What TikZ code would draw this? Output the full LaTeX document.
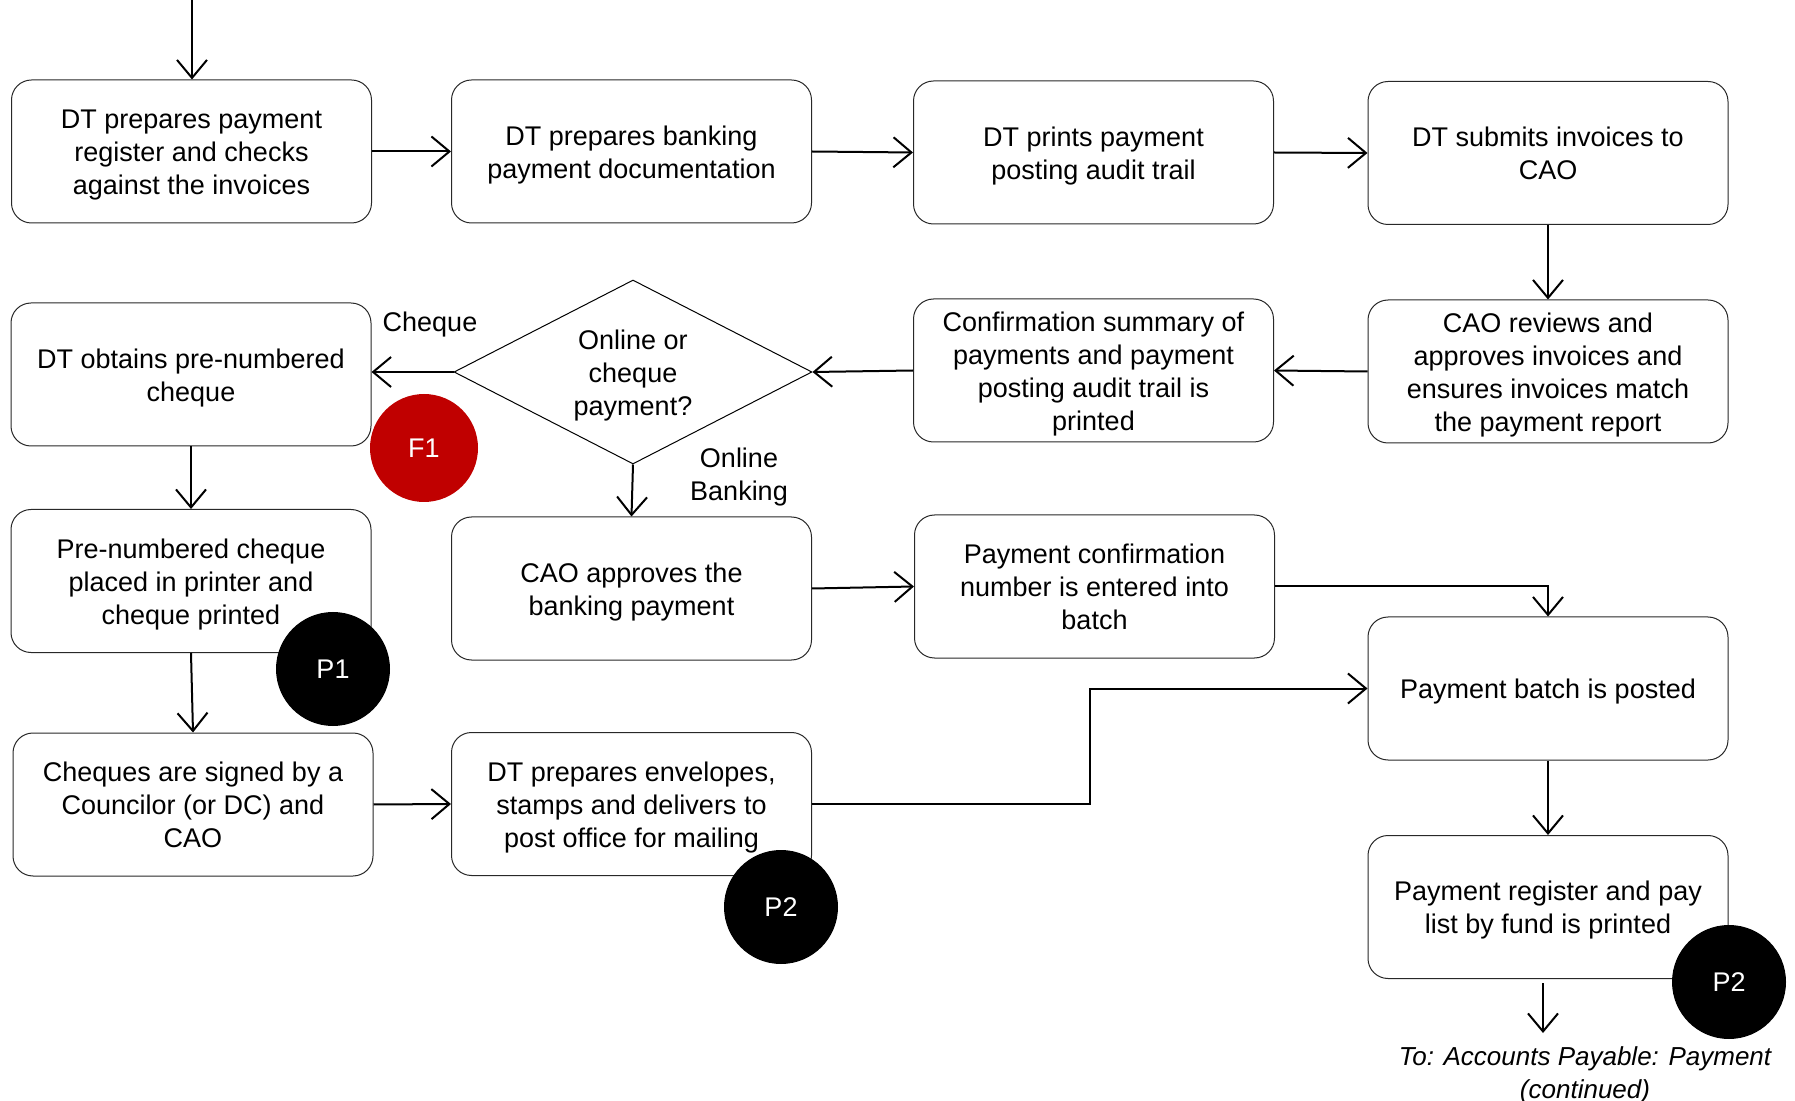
\documentclass[tikz,border=0pt]{standalone}
\usepackage{fontspec}
\setmainfont{Liberation Sans}
\usetikzlibrary{shapes.geometric, arrows.meta, positioning}
\definecolor{rojoFalla}{RGB}{192, 0, 0}
\definecolor{grisBorde}{RGB}{40, 40, 40}

\begin{document}
\begin{tikzpicture}[x=0.5pt, y=-0.5pt,
            paso/.style={rectangle, rounded corners=10pt, draw=grisBorde, line width=0.5pt, minimum width=180pt, minimum height=71.5pt, inner ysep=1pt, text width=172pt, align=flush center, execute at begin node={\rule{0pt}{13.3pt}}, execute at end node={\rule[-3.2pt]{0pt}{3.2pt}}, font=\fontsize{13.5}{16.5}\selectfont},
            pregunta/.style={diamond, aspect=2, draw=black, line width=0.5pt, minimum width=179pt, minimum height=92pt, inner sep=0pt, text width=70pt, align=flush center, execute at begin node={\rule{0pt}{13.3pt}}, execute at end node={\rule[-3.2pt]{0pt}{3.2pt}}, font=\fontsize{13.5}{16.5}\selectfont},
            marca/.style={circle, fill=#1, text=white, minimum size=57pt, inner sep=0pt, font=\fontsize{13.5}{16.5}\selectfont},
            etiqueta/.style={align=center, font=\fontsize{13.5}{16.5}\selectfont},
            flecha/.style={-{Straight Barb[length=9pt, width=15pt, line width=1pt]}, line width=1pt, black}]

            \useasboundingbox (0,0) rectangle (1795,1101);

            % fila 1
            \node[paso] (prep) at (191.5,151.5) {DT prepares payment\\register and checks\\against the invoices};
            \node[paso] (bank) at (631.5,151.5) {DT prepares banking\\payment documentation};
            \node[paso] (print) at (1093.5,152.5) {DT prints payment\\posting audit trail};
            \node[paso] (submit) at (1548,153) {DT submits invoices to\\CAO};

            % fila 2
            \node[paso] (obtain) at (191,374.5) {DT obtains pre-numbered\\cheque};
            \node[pregunta] (tipo) at (633,372) {Online or\\cheque\\payment?};
            \node[paso] (confirm) at (1093.5,370.5) {Confirmation summary of\\payments and payment\\posting audit trail is\\printed};
            \node[paso] (review) at (1548,371.5) {CAO reviews and\\approves invoices and\\ensures invoices match\\the payment report};

            % fila 3
            \node[paso] (chqprint) at (191,581) {Pre-numbered cheque\\placed in printer and\\cheque printed};
            \node[paso] (approve) at (631.5,588.5) {CAO approves the\\banking payment};
            \node[paso] (confno) at (1094.5,586.5) {Payment confirmation\\number is entered into\\batch};
            \node[paso] (posted) at (1548,688.5) {Payment batch is posted};

            % fila 4
            \node[paso] (signed) at (193,804.5) {Cheques are signed by a\\Councilor (or DC) and\\CAO};
            \node[paso] (mail) at (631.5,804) {DT prepares envelopes,\\stamps and delivers to\\post office for mailing};
            \node[paso] (register) at (1548,907) {Payment register and pay\\list by fund is printed};

            \node[etiqueta] (lblCheque) at (430,325) {Cheque};
            \node[etiqueta] (lblOnline) at (739,477) {Online\\Banking};
            \node[etiqueta, font=\fontsize{13}{16.5}\selectfont\itshape] (toText) at (1585,1075) {To: Accounts Payable: Payment\\(continued)};

            \coordinate (inicio) at (192,0);
            \coordinate (cont) at (1543,1033);

            \draw[flecha] (inicio) -- (prep.north -| inicio);
            \draw[flecha] (prep.east) -- (bank.west);
            \draw[flecha] (bank.east) -- (print.west);
            \draw[flecha] (print.east) -- (submit.west);
            \draw[flecha] (submit.south) -- (review.north);
            \draw[flecha] (review.west) -- (confirm.east);
            \draw[flecha] (confirm.west) -- (tipo.east);
            \draw[flecha] (tipo.west) -- (tipo.west -| obtain.east);
            \draw[flecha] (tipo.south) -- (approve.north);
            \draw[flecha] (obtain.south) -- (chqprint.north);
            \draw[flecha] (chqprint.south) -- (signed.north);
            \draw[flecha] (signed.east) -- (mail.west);
            \draw[flecha] (approve.east) -- (confno.west);
            \draw[flecha] (confno.east) -| (posted.north);
            \draw[flecha] (mail.east) -- (mail.east -| 1090,0) |- (posted.west);
            \draw[flecha] (posted.south) -- (register.north);
            \draw[flecha] ([yshift=-2pt]register.south -| cont) -- (cont);

            % marcas de control
            \node[marca=rojoFalla, minimum size=54pt] (f1) at (424,448) {F1};
            \node[marca=black] (p1) at (333,669) {P1};
            \node[marca=black] (p2a) at (781,907) {P2};
            \node[marca=black] (p2b) at (1729,982) {P2};
        \end{tikzpicture}
\end{document}
